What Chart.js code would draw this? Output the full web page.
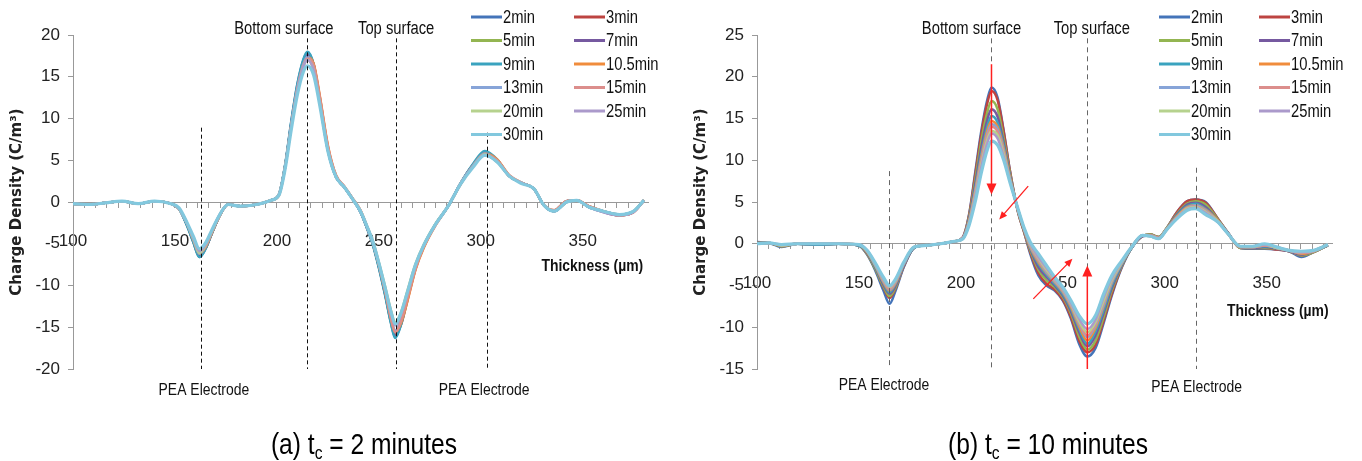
<!DOCTYPE html>
<html lang="en">
<head>
<meta charset="UTF-8">
<title>Charge density profiles</title>
<style>
  body { margin: 0; padding: 0; background: #fff; }
  .wrap { position: relative; width: 1362px; height: 461px; overflow: hidden; }
  .panel { position: absolute; top: 0; width: 681px; height: 461px; }
  #panelA { left: 0; }
  #panelB { left: 681px; }
</style>
<script src="https://cdn.jsdelivr.net/npm/chart.js"></script>
</head>
<body>
<div class="wrap">
  <div class="panel" id="panelA"><canvas id="chartA" width="681" height="461"></canvas></div>
  <div class="panel" id="panelB"><canvas id="chartB" width="681" height="461"></canvas></div>
</div>
<script>
// series names / colours (Excel style palette)
const seriesNames = ['2min', '3min', '5min', '7min', '9min', '10.5min', '13min', '15min', '20min', '25min', '30min'];
const seriesColors = ['#4474b9', '#bd4441', '#93b551', '#7659a0', '#3aa3bf', '#f08c3c',
                      '#87a4d8', '#dc8e8c', '#b6d28e', '#ab9acb', '#82c8de'];

// ---- (a) tc = 2 minutes : thickness (um) and charge density (C/m3)
const thicknessA = [100,108,116,124,132,140,148,152,156,159,162,165,168,172,176,182,190,197,201,204,
  207,210,213,215,218,221,225,229,233,237,241,244,247,250,253,256,258,261,264,268,
  272,278,284,290,296,302,308,314,320,326,331,336,342,347,353,360,368,375,380];
const a2min = [-0.2,-0.3,-0.1,0.1,-0.2,0.1,-0.2,-0.8,-2.8,-4.8,-6.6,-5.6,-3.8,-1.6,-0.3,-0.5,-0.3,0.2,0.9,4.3,
  9.5,14.0,17.0,17.9,16.4,12.2,6.3,3.0,1.8,0.4,-1.2,-3.0,-5.0,-7.8,-11.0,-14.5,-16.2,-14.5,-11.5,-7.8,
  -5.3,-2.6,-0.5,2.2,4.4,6.0,5.0,3.1,2.3,1.6,-0.4,-1.1,0.0,0.2,-0.6,-1.1,-1.5,-1.1,0.2];
const a3min = [-0.2,-0.3,-0.1,0.1,-0.2,0.1,-0.2,-0.8,-2.7,-4.6,-6.3,-5.5,-3.8,-1.6,-0.3,-0.5,-0.3,0.2,0.9,4.2,
  9.2,13.6,16.6,17.5,16.5,12.6,6.6,3.1,1.8,0.4,-1.1,-2.9,-4.9,-7.6,-10.8,-14.2,-15.8,-14.6,-11.8,-8.0,
  -5.4,-2.6,-0.5,2.1,4.3,5.8,5.0,3.1,2.3,1.6,-0.4,-1.0,0.1,0.2,-0.5,-1.1,-1.6,-1.2,0.2];
const a5min = [-0.2,-0.3,-0.1,0.1,-0.2,0.1,-0.2,-0.8,-2.8,-4.7,-6.5,-5.5,-3.8,-1.6,-0.3,-0.5,-0.3,0.2,0.9,4.3,
  9.3,13.7,16.7,17.6,16.2,12.2,6.3,3.0,1.8,0.4,-1.2,-3.0,-5.0,-7.7,-10.9,-14.4,-16.0,-14.4,-11.5,-7.8,
  -5.3,-2.6,-0.5,2.2,4.4,5.9,5.0,3.1,2.3,1.6,-0.4,-1.1,0.0,0.2,-0.6,-1.1,-1.6,-1.1,0.2];
const a7min = [-0.2,-0.3,-0.1,0.1,-0.2,0.1,-0.2,-0.8,-2.8,-4.7,-6.4,-5.5,-3.8,-1.6,-0.3,-0.5,-0.3,0.2,0.9,4.3,
  9.3,13.8,16.8,17.7,16.3,12.2,6.3,3.0,1.8,0.4,-1.2,-3.0,-5.0,-7.7,-10.9,-14.3,-15.9,-14.3,-11.4,-7.8,
  -5.3,-2.6,-0.5,2.2,4.4,5.9,5.0,3.1,2.3,1.6,-0.4,-1.1,0.1,0.2,-0.6,-1.2,-1.6,-1.2,0.2];
const a9min = [-0.2,-0.3,-0.1,0.1,-0.2,0.1,-0.2,-0.8,-2.9,-4.8,-6.6,-5.6,-3.8,-1.6,-0.3,-0.5,-0.3,0.2,0.9,4.4,
  9.6,14.1,17.1,18.0,16.5,12.3,6.3,3.0,1.8,0.4,-1.2,-3.0,-5.1,-7.9,-11.1,-14.6,-16.3,-14.6,-11.6,-7.8,
  -5.3,-2.6,-0.5,2.2,4.5,6.1,5.1,3.1,2.3,1.6,-0.4,-1.1,0.0,0.2,-0.6,-1.1,-1.5,-1.1,0.2];
const a10min = [-0.2,-0.3,-0.1,0.1,-0.2,0.1,-0.2,-0.8,-2.6,-4.5,-6.2,-5.4,-3.7,-1.6,-0.3,-0.5,-0.3,0.2,0.8,4.1,
  9.0,13.5,16.5,17.3,16.6,12.8,6.8,3.2,1.9,0.5,-1.0,-2.8,-4.8,-7.5,-10.6,-14.0,-15.6,-14.4,-11.9,-8.1,
  -5.5,-2.7,-0.5,2.1,4.3,5.8,5.1,3.2,2.3,1.6,-0.4,-1.0,0.1,0.2,-0.5,-1.1,-1.6,-1.2,0.2];
const a13min = [-0.2,-0.3,-0.1,0.1,-0.2,0.1,-0.2,-0.8,-2.6,-4.5,-6.2,-5.3,-3.6,-1.5,-0.3,-0.5,-0.3,0.2,0.9,4.2,
  9.2,13.6,16.5,17.4,16.0,12.0,6.2,3.0,1.8,0.4,-1.2,-2.9,-4.8,-7.4,-10.4,-13.8,-15.4,-13.8,-11.0,-7.6,
  -5.2,-2.6,-0.5,2.2,4.3,5.8,4.9,3.1,2.3,1.6,-0.4,-1.1,0.0,0.2,-0.6,-1.1,-1.5,-1.1,0.2];
const a15min = [-0.2,-0.3,-0.1,0.1,-0.2,0.1,-0.2,-0.8,-2.6,-4.4,-6.0,-5.3,-3.7,-1.6,-0.3,-0.5,-0.3,0.2,0.8,4.1,
  9.0,13.4,16.3,17.2,16.4,12.6,6.7,3.2,1.9,0.5,-1.0,-2.8,-4.8,-7.5,-10.6,-14.0,-15.6,-14.2,-11.6,-8.0,
  -5.4,-2.7,-0.5,2.1,4.2,5.7,5.0,3.2,2.3,1.6,-0.4,-1.0,0.1,0.2,-0.5,-1.1,-1.6,-1.2,0.2];
const a20min = [-0.2,-0.3,-0.1,0.1,-0.2,0.1,-0.2,-0.8,-2.6,-4.4,-6.1,-5.2,-3.6,-1.5,-0.3,-0.5,-0.3,0.2,0.9,4.1,
  9.0,13.3,16.2,17.0,15.8,11.9,6.2,3.0,1.8,0.4,-1.1,-2.8,-4.6,-7.2,-10.0,-13.0,-14.4,-13.1,-10.6,-7.4,
  -5.1,-2.5,-0.5,2.2,4.2,5.7,4.8,3.1,2.3,1.6,-0.4,-1.1,0.0,0.2,-0.6,-1.1,-1.5,-1.1,0.2];
const a25min = [-0.2,-0.3,-0.1,0.1,-0.2,0.1,-0.2,-0.8,-2.6,-4.3,-5.9,-5.1,-3.5,-1.5,-0.3,-0.5,-0.3,0.2,0.9,4.1,
  9.0,13.3,16.2,17.0,15.8,11.9,6.2,3.0,1.8,0.4,-1.1,-2.8,-4.7,-7.3,-10.2,-13.2,-14.8,-13.3,-10.8,-7.5,
  -5.2,-2.6,-0.5,2.2,4.2,5.6,4.8,3.1,2.3,1.6,-0.4,-1.1,0.0,0.2,-0.6,-1.2,-1.6,-1.2,0.2];
const a30min = [-0.2,-0.3,-0.1,0.1,-0.2,0.1,-0.2,-0.7,-2.5,-4.1,-5.6,-4.9,-3.4,-1.5,-0.3,-0.5,-0.3,0.2,0.8,3.9,
  8.6,12.8,15.6,16.3,15.2,11.6,6.1,3.0,1.8,0.4,-1.1,-2.8,-4.7,-7.3,-10.2,-13.2,-14.6,-13.2,-10.8,-7.5,
  -5.2,-2.6,-0.5,2.1,4.1,5.6,4.8,3.1,2.2,1.6,-0.4,-1.1,0.0,0.2,-0.6,-1.1,-1.5,-1.1,0.2];

// ---- (b) tc = 10 minutes
const thicknessB = [100,106,112,120,130,140,150,154,158,162,165,168,172,177,183,190,197,201,204,207,
  210,213,215,218,221,224,228,231,234,238,242,246,250,254,258,262,266,270,274,279,
  284,289,293,297,301,306,311,315,320,326,331,337,343,349,355,361,367,373,380];
const b2min = [0.2,0.1,-0.4,0,-0.1,0,-0.2,-1.3,-3.2,-5.6,-7.2,-5.6,-2.8,-0.5,-0.2,0,0.3,0.8,3.5,8.5,
  13.5,17.3,18.7,17.5,13.5,8.8,3.8,1.4,-1.2,-3.8,-5.0,-5.6,-6.8,-9.0,-12.0,-13.5,-12.5,-9.5,-6.2,-2.8,
  -0.4,0.9,1.1,0.8,1.9,3.8,5.1,5.3,5.0,3.0,1.3,-0.5,-0.6,-0.6,-0.7,-0.9,-1.6,-1.0,-0.2];
const b3min = [0.1,0.1,-0.3,0,-0.1,0,-0.2,-1.2,-3.0,-5.2,-6.5,-5.3,-2.7,-0.5,-0.2,0,0.3,0.8,3.4,8.2,
  13.1,16.9,18.3,17.2,13.4,8.8,3.8,1.4,-1.0,-3.5,-4.8,-5.5,-6.7,-8.8,-11.6,-13.0,-12.1,-9.2,-6.0,-2.7,
  -0.4,0.9,1.1,0.8,1.9,3.8,5.1,5.3,4.9,3.0,1.3,-0.5,-0.5,-0.5,-0.7,-0.9,-1.4,-1.0,-0.2];
const b5min = [0.1,0.1,-0.3,0,-0.1,0,-0.2,-1.2,-3.0,-5.1,-6.3,-5.2,-2.6,-0.5,-0.2,0,0.3,0.7,3.2,7.6,
  12.3,15.8,17.1,16.1,12.6,8.5,3.9,1.5,-0.8,-3.1,-4.4,-5.2,-6.4,-8.4,-11.1,-12.7,-11.6,-8.8,-5.6,-2.6,
  -0.4,0.9,1.1,0.8,1.9,3.6,4.8,5.1,4.7,2.9,1.3,-0.5,-0.5,-0.5,-0.6,-0.9,-1.4,-1.0,-0.2];
const b7min = [0.1,0.1,-0.2,0,-0.1,0,-0.2,-1.1,-2.8,-4.9,-6.0,-5.0,-2.6,-0.5,-0.2,0,0.3,0.7,3.0,7.1,
  11.5,14.9,16.1,15.2,12.1,8.2,4.0,1.6,-0.6,-2.8,-4.0,-5.0,-6.2,-8.1,-10.6,-12.3,-11.0,-8.3,-5.3,-2.5,
  -0.4,0.9,1.0,0.7,1.8,3.5,4.7,4.9,4.4,2.8,1.3,-0.4,-0.5,-0.4,-0.6,-0.9,-1.3,-0.9,-0.2];
const b9min = [0.1,0.1,-0.2,0,-0.1,0,-0.2,-1.0,-2.7,-4.7,-5.8,-4.8,-2.5,-0.5,-0.2,0,0.3,0.7,2.8,6.6,
  10.8,14.1,15.3,14.5,11.7,8.0,4.0,1.7,-0.5,-2.4,-3.7,-4.8,-6.0,-7.8,-10.2,-12.0,-10.5,-7.9,-5.0,-2.4,
  -0.4,1.0,1.0,0.7,1.8,3.4,4.5,4.8,4.2,2.8,1.2,-0.4,-0.4,-0.3,-0.5,-0.8,-1.2,-0.9,-0.2];
const b10min = [0.1,0.1,-0.2,0,0,0,-0.1,-1.0,-2.6,-4.6,-5.6,-4.7,-2.4,-0.4,-0.2,0,0.3,0.7,2.7,6.3,
  10.4,13.6,14.7,14.0,11.4,7.9,4.0,1.7,-0.4,-2.2,-3.5,-4.6,-5.8,-7.6,-9.9,-11.6,-10.1,-7.5,-4.7,-2.3,
  -0.3,1.0,1.0,0.7,1.8,3.3,4.4,4.6,4.1,2.8,1.2,-0.4,-0.4,-0.2,-0.5,-0.8,-1.2,-0.9,-0.1];
const b13min = [0,0.1,-0.2,0,0,0,-0.1,-0.9,-2.6,-4.5,-5.5,-4.6,-2.4,-0.4,-0.2,0,0.3,0.7,2.6,6.1,
  10.1,13.2,14.3,13.7,11.1,7.8,4.1,1.8,-0.3,-2.0,-3.4,-4.5,-5.7,-7.4,-9.6,-11.2,-9.8,-7.3,-4.6,-2.3,
  -0.3,1.0,1.0,0.7,1.8,3.2,4.3,4.6,4.0,2.7,1.2,-0.4,-0.4,-0.2,-0.5,-0.8,-1.1,-0.9,-0.1];
const b15min = [0,0.1,-0.2,0,0,0,-0.1,-0.9,-2.5,-4.4,-5.4,-4.5,-2.4,-0.4,-0.2,0,0.3,0.7,2.6,6.0,
  9.9,12.9,14.0,13.4,10.9,7.8,4.1,1.8,-0.2,-1.9,-3.2,-4.4,-5.6,-7.3,-9.4,-11.0,-9.6,-7.0,-4.4,-2.2,
  -0.3,1.0,1.0,0.7,1.8,3.2,4.3,4.5,3.9,2.7,1.2,-0.4,-0.4,-0.2,-0.5,-0.8,-1.1,-0.9,-0.1];
const b20min = [0,0.1,-0.2,0,0,0,-0.1,-0.9,-2.5,-4.3,-5.2,-4.4,-2.3,-0.4,-0.2,0,0.3,0.6,2.5,5.7,
  9.5,12.5,13.5,13.0,10.7,7.7,4.1,1.8,-0.1,-1.7,-3.1,-4.3,-5.5,-7.2,-9.3,-10.6,-9.4,-6.8,-4.3,-2.2,
  -0.3,1.0,0.9,0.6,1.7,3.1,4.2,4.4,3.8,2.7,1.2,-0.3,-0.4,-0.1,-0.5,-0.8,-1.0,-0.8,-0.1];
const b25min = [0,0.1,-0.1,0,0,0,-0.1,-0.8,-2.4,-4.2,-5.1,-4.3,-2.3,-0.4,-0.2,0,0.3,0.6,2.4,5.5,
  9.2,12.1,13.2,12.6,10.4,7.6,4.1,1.8,0,-1.6,-2.9,-4.2,-5.4,-7.1,-9.0,-10.2,-9.1,-6.4,-4.1,-2.1,
  -0.3,1.0,0.9,0.6,1.7,3.1,4.1,4.3,3.7,2.6,1.2,-0.3,-0.3,-0.1,-0.4,-0.8,-1.0,-0.8,-0.1];
const b30min = [0,0.1,-0.1,0,0,0,-0.1,-0.8,-2.3,-4.0,-5.0,-4.2,-2.2,-0.4,-0.2,0,0.3,0.6,2.2,5.0,
  8.5,11.3,12.3,11.8,10.0,7.4,4.2,1.9,0.2,-1.2,-2.6,-4.0,-5.2,-6.8,-8.6,-9.6,-8.6,-6.0,-3.8,-2.0,
  -0.3,1.0,0.9,0.6,1.7,3.0,4.0,4.2,3.5,2.6,1.2,-0.3,-0.3,0.0,-0.4,-0.8,-0.9,-0.8,-0.1];

const seriesA = [a2min, a3min, a5min, a7min, a9min, a10min, a13min, a15min, a20min, a25min, a30min];
const seriesB = [b2min, b3min, b5min, b7min, b9min, b10min, b13min, b15min, b20min, b25min, b30min];

const SANS = "'Liberation Sans', Arial, sans-serif";
const SQUEEZE = 0.82; // no condensed face installed, so text is squeezed horizontally

// text drawn narrow (Arial Narrow look)
function narrowText(ctx, text, x, y, font, align) {
    ctx.save();
    ctx.font = font;
    ctx.translate(x, y);
    ctx.scale(SQUEEZE, 1);
    ctx.textAlign = align;
    ctx.fillText(text, 0, 0);
    ctx.restore();
}

// arrow helper
function arrow(ctx, x1, y1, x2, y2, head, wide) {
    const a = Math.atan2(y2 - y1, x2 - x1);
    const c = Math.cos(a), s = Math.sin(a);
    ctx.beginPath();
    ctx.moveTo(x1, y1);
    ctx.lineTo(x2 - c * head * 0.8, y2 - s * head * 0.8);
    ctx.stroke();
    ctx.beginPath();
    ctx.moveTo(x2, y2);
    ctx.lineTo(x2 - c * head + s * wide / 2, y2 - s * head - c * wide / 2);
    ctx.lineTo(x2 - c * head - s * wide / 2, y2 - s * head + c * wide / 2);
    ctx.closePath();
    ctx.fill();
}

// guides, notes, legend and caption drawn on top of the curves
function decor(cfg) {
    return {
        id: 'decor',
        afterDatasetsDraw(chart) {
            const { ctx, scales: { x, y } } = chart;
            ctx.save();
            ctx.strokeStyle = cfg.guideColor;
            ctx.lineWidth = 1;
            ctx.setLineDash(cfg.dash);
            cfg.guides.forEach(g => {
                const px = Math.round(x.getPixelForValue(g[0])) + 0.5;
                ctx.beginPath();
                ctx.moveTo(px, y.getPixelForValue(g[1]));
                ctx.lineTo(px, y.getPixelForValue(g[2]));
                ctx.stroke();
            });
            ctx.setLineDash([]);

            // red arrows
            ctx.strokeStyle = '#ff2020';
            ctx.fillStyle = '#ff2020';
            (cfg.arrows || []).forEach(r => {
                ctx.lineWidth = r[4];
                arrow(ctx, x.getPixelForValue(r[0]), y.getPixelForValue(r[1]),
                      x.getPixelForValue(r[2]), y.getPixelForValue(r[3]), r[5], r[6]);
            });

            // text notes
            ctx.fillStyle = '#111';
            ctx.textBaseline = 'middle';
            cfg.notes.forEach(n => narrowText(ctx, n[0], x.getPixelForValue(n[1]), n[2], n[3], 'center'));

            // legend, two columns
            chart.data.datasets.forEach((ds, i) => {
                const lx = cfg.legendX[i % 2];
                const ly = cfg.legendTop + Math.floor(i / 2) * cfg.legendStep;
                ctx.strokeStyle = ds.borderColor;
                ctx.lineWidth = 3;
                ctx.beginPath();
                ctx.moveTo(lx, ly);
                ctx.lineTo(lx + 31, ly);
                ctx.stroke();
                ctx.fillStyle = '#111';
                narrowText(ctx, ds.label, lx + 32, ly + 1, '18px ' + SANS, 'left');
            });

            // caption with subscript
            const big = '30px ' + SANS, small = '19px ' + SANS;
            ctx.font = big;
            const w1 = ctx.measureText(cfg.caption[0]).width * SQUEEZE;
            const w3 = ctx.measureText(cfg.caption[2]).width * SQUEEZE;
            ctx.font = small;
            const w2 = ctx.measureText(cfg.caption[1]).width * SQUEEZE;
            const cx = cfg.captionX - (w1 + w2 + w3) / 2;
            ctx.fillStyle = '#000';
            ctx.textBaseline = 'alphabetic';
            narrowText(ctx, cfg.caption[0], cx, 454, big, 'left');
            narrowText(ctx, cfg.caption[1], cx + w1, 459, small, 'left');
            narrowText(ctx, cfg.caption[2], cx + w1 + w2, 454, big, 'left');
            ctx.restore();
        }
    };
}

function makeChart(id, xs, ys, cfg) {
    const datasets = ys.map((vals, i) => ({
        label: seriesNames[i],
        data: xs.map((t, j) => ({ x: t, y: vals[j] })),
        borderColor: seriesColors[i],
        borderWidth: i === ys.length - 1 ? 3.2 : 2.5,
        order: ys.length - i,        // later times painted on top
        pointRadius: 0,
        cubicInterpolationMode: 'monotone',
        fill: false
    }));
    return new Chart(document.getElementById(id), {
        type: 'line',
        data: { datasets },
        options: {
            responsive: false,
            animation: false,
            events: [],
            layout: { padding: { left: cfg.padLeft, right: 681 - cfg.padLeft - 73 - 575, top: 35, bottom: 92 } },
            plugins: { legend: { display: false }, tooltip: { enabled: false } },
            scales: {
                x: {
                    type: 'linear',
                    min: 100,
                    max: 382,
                    position: { y: 0 },
                    afterBuildTicks: s => {
                        const t = [];
                        for (let k = 0; 100 + k * 50 / 9 <= 382; k++) t.push({ value: 100 + k * 50 / 9 });
                        s.ticks = t;
                    },
                    ticks: {
                        autoSkip: false,
                        maxRotation: 0,
                        padding: 24,
                        color: '#222',
                        font: { family: SANS, size: 17 },
                        callback: v => {
                            const r = Math.round(v);
                            return (Math.abs(v - r) < 1e-6 && r % 50 === 0) ? String(r) : '';
                        }
                    },
                    grid: { drawOnChartArea: false, drawTicks: true, tickLength: 5, color: '#999' },
                    border: { color: '#999', width: 1 }
                },
                y: {
                    min: cfg.yMin,
                    max: cfg.yMax,
                    afterFit: s => { s.width = 73; },
                    ticks: { stepSize: 5, padding: 8, color: '#222', font: { family: SANS, size: 17 } },
                    grid: { drawOnChartArea: false, tickLength: 5, color: '#999' },
                    border: { color: '#999', width: 1 },
                    title: {
                        display: true,
                        text: 'Charge Density (C/m³)',
                        color: '#222',
                        padding: { top: 8, bottom: 0 },
                        font: { family: 'DejaVu Sans', weight: 'bold', size: 15 }
                    }
                }
            }
        },
        plugins: [decor(cfg)]
    });
}

makeChart('chartA', thicknessA, seriesA, {
    padLeft: 0, yMin: -20, yMax: 20,
    guideColor: '#111', dash: [4, 3],
    guides: [[163, 8.9, -20], [215, 19.6, -20], [258.5, 19.6, -20], [303, 8.3, -20]],
    notes: [
        ['Bottom surface', 203.4, 29, '18px ' + SANS],
        ['Top surface', 258.5, 29, '18px ' + SANS],
        ['PEA Electrode', 164.2, 390, '17px ' + SANS],
        ['PEA Electrode', 301.6, 390, '17px ' + SANS],
        ['Thickness (µm)', 354.7, 266, 'bold 17px ' + SANS]
    ],
    legendX: [471, 574], legendTop: 17, legendStep: 23.5,
    caption: ['(a) t', 'c', ' = 2 minutes'], captionX: 364
});

makeChart('chartB', thicknessB, seriesB, {
    padLeft: 3, yMin: -15, yMax: 25,
    guideColor: '#666', dash: [5, 4],
    guides: [[164.5, 8.7, -15], [215, 24.6, -15], [262, 24.6, -15], [315.5, 9.1, -15]],
    arrows: [
        [215, 21.5, 215, 5.9, 1.5, 11, 10],
        [233, 6.9, 218.8, 2.9, 1.3, 8, 7],
        [235.5, -6.6, 254.7, -1.8, 1.3, 8, 7],
        [262, -15, 262, -2.6, 1.5, 11, 10]
    ],
    notes: [
        ['Bottom surface', 205.2, 29, '18px ' + SANS],
        ['Top surface', 264.2, 29, '18px ' + SANS],
        ['PEA Electrode', 162.3, 385, '17px ' + SANS],
        ['PEA Electrode', 315.6, 387, '17px ' + SANS],
        ['Thickness (µm)', 355.4, 311, 'bold 17px ' + SANS]
    ],
    legendX: [478, 578], legendTop: 17, legendStep: 23.5,
    caption: ['(b) t', 'c', ' = 10 minutes'], captionX: 367
});
</script>
</body>
</html>
